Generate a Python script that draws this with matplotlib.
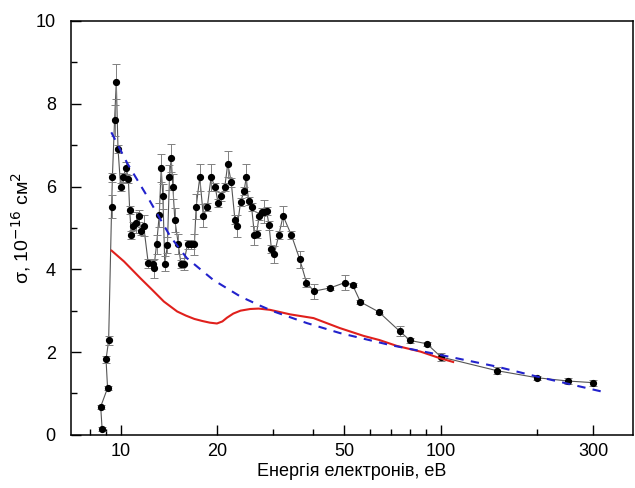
import matplotlib
matplotlib.use("Agg")
import matplotlib.pyplot as plt
from matplotlib.ticker import FixedLocator, NullFormatter, FixedFormatter

plt.rcParams["font.family"] = ["Liberation Sans", "DejaVu Sans"]

# --- measured cross section (black points) --------------------------------
energy = [8.75, 8.66, 9.1, 9.0, 9.17, 9.37, 9.42, 9.57, 9.69, 9.81,
          10.0, 10.17, 10.41, 10.57, 10.67, 10.8, 10.96, 11.19, 11.38, 11.57,
          11.8, 12.2, 12.6, 12.7, 12.95, 13.2, 13.39, 13.55, 13.74, 14.0,
          14.21, 14.39, 14.56, 14.77, 15.14, 15.43, 15.73, 16.18, 16.65, 17.0,
          17.22, 17.67, 18.13, 18.66, 19.17, 19.74, 20.17, 20.66, 21.16, 21.62,
          22.17, 22.76, 23.17, 23.7, 24.3, 24.7, 25.1, 25.66, 26.2, 26.6,
          27.1, 27.6, 28.1, 28.6, 29.1, 29.6, 30.2, 31.2, 32.2, 34.2,
          36.3, 38.1, 40.2, 45.2, 50.3, 53.1, 56.2, 64.1, 74.6, 80.3,
          90.6, 100.4, 150, 200, 250, 300]
sigma = [0.14, 0.68, 1.13, 1.82, 2.28, 5.51, 6.22, 7.60, 8.53, 6.91,
         5.99, 6.22, 6.45, 6.18, 5.43, 4.82, 5.05, 5.13, 5.29, 4.92,
         5.05, 4.14, 4.12, 4.03, 4.60, 5.31, 6.44, 5.76, 4.13, 4.59,
         6.22, 6.68, 6.00, 5.19, 4.61, 4.13, 4.13, 4.60, 4.60, 4.60,
         5.51, 6.22, 5.29, 5.51, 6.22, 5.99, 5.60, 5.76, 5.99, 6.55,
         6.10, 5.20, 5.05, 5.62, 5.89, 6.22, 5.65, 5.51, 4.82, 4.86,
         5.29, 5.38, 5.39, 5.41, 5.06, 4.49, 4.36, 4.82, 5.29, 4.82,
         4.24, 3.68, 3.47, 3.55, 3.68, 3.62, 3.21, 2.97, 2.50, 2.28,
         2.20, 1.88, 1.55, 1.38, 1.30, 1.26]
sigma_err = [0.05, 0.05, 0.05, 0.08, 0.10, 0.28, 0.10, 0.38, 0.42, 0.10,
             0.10, 0.10, 0.15, 0.10, 0.10, 0.10, 0.10, 0.25, 0.15, 0.10,
             0.25, 0.10, 0.10, 0.23, 0.22, 0.30, 0.34, 0.30, 0.18, 0.20,
             0.30, 0.34, 0.30, 0.30, 0.25, 0.10, 0.15, 0.10, 0.10, 0.25,
             0.30, 0.33, 0.28, 0.10, 0.33, 0.10, 0.10, 0.10, 0.10, 0.32,
             0.10, 0.10, 0.26, 0.10, 0.10, 0.33, 0.10, 0.10, 0.23, 0.10,
             0.10, 0.10, 0.28, 0.10, 0.10, 0.10, 0.21, 0.10, 0.25, 0.10,
             0.20, 0.10, 0.18, 0.05, 0.18, 0.05, 0.05, 0.05, 0.12, 0.05,
             0.05, 0.09, 0.08, 0.05, 0.07, 0.07]

# --- calculation (red) ----------------------------------------------------
calc_e = [9.37, 10.24, 11.54, 12.56, 13.65, 15.02, 16.0, 17.0, 18.0, 19.0,
          20.0, 20.8, 21.5, 22.5, 23.7, 25.4, 27.0, 29.3, 33.9, 40.1,
          48.4, 57.5, 64.4, 72.9, 86.6, 99.7, 109.5]
calc_s = [4.45, 4.19, 3.78, 3.50, 3.22, 2.98, 2.88, 2.80, 2.75, 2.71,
          2.69, 2.74, 2.83, 2.93, 3.00, 3.04, 3.05, 3.02, 2.91, 2.82,
          2.58, 2.39, 2.29, 2.15, 2.01, 1.85, 1.76]

# --- fit (blue dashed) ----------------------------------------------------
fit_e = [9.35, 10.49, 12.11, 14.3, 16.1, 19.5, 23.7, 27.3, 30.1, 38.2,
         48.4, 69.5, 100, 149.6, 199.6, 330]
fit_s = [7.31, 6.56, 5.76, 4.79, 4.27, 3.74, 3.34, 3.12, 2.98, 2.70,
         2.46, 2.17, 1.93, 1.65, 1.41, 1.02]

fig = plt.figure(figsize=(6.35, 4.88), dpi=100)
ax = fig.add_axes([0.112, 0.109, 0.885, 0.848])

ax.plot(energy, sigma, color="#555555", lw=0.8, zorder=2)
ax.errorbar(energy, sigma, yerr=sigma_err, fmt="o", color="black", ms=4.2,
            ecolor="#808080", elinewidth=0.7, capsize=3, capthick=0.7, zorder=3)
ax.plot(calc_e, calc_s, color="#e0201c", lw=1.5, zorder=4)
ax.plot(fit_e, fit_s, color="#2222cc", lw=1.5, dashes=(4, 3.5), zorder=5)

ax.set_xscale("log")
ax.set_xlim(7, 400)
ax.set_ylim(0, 10)

major_x = [10, 20, 50, 100, 300]
minor_x = [8, 9, 30, 40, 60, 70, 80, 90, 200]
ax.xaxis.set_major_locator(FixedLocator(major_x))
ax.xaxis.set_major_formatter(FixedFormatter([str(v) for v in major_x]))
ax.xaxis.set_minor_locator(FixedLocator(minor_x))
ax.xaxis.set_minor_formatter(NullFormatter())
ax.set_yticks([0, 2, 4, 6, 8, 10])
ax.set_yticks([1, 3, 5, 7, 9], minor=True)

ax.tick_params(which="both", direction="in", labelsize=13, width=1)
ax.tick_params(which="major", length=7)
ax.tick_params(which="minor", length=4)
ax.tick_params(axis="y", pad=11)
ax.tick_params(axis="x", pad=6)
for sp in ax.spines.values():
    sp.set_linewidth(1.1)

ax.set_xlabel("Енергія електронів, еВ", fontsize=13, labelpad=2)
ax.set_ylabel(r"σ, 10$^{-16}$ см$^{2}$", fontsize=14, labelpad=2)

fig.savefig("out.png", dpi=100)
